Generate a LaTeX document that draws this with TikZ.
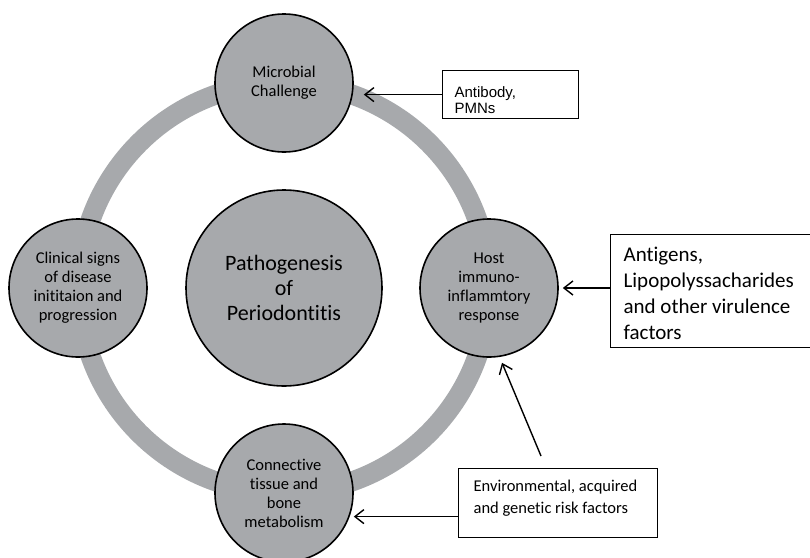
\documentclass[tikz,border=0pt]{standalone}
\usepackage{fontspec}
\setmainfont{Carlito}[Ligatures=NoCommon]
\newfontfamily\arialfont{Liberation Sans}
\usepackage{tikz}
\usetikzlibrary{arrows.meta,positioning,calc}
\definecolor{ringgray}{RGB}{167,169,172}
\tikzset{
  >=Stealth,
  every picture/.append style={line width=0.6pt},
}
\tikzset{
  stage/.style={circle, draw, line width=1.6pt, fill=ringgray, align=center,
    minimum size=138pt, inner sep=0pt, font=\fontsize{16.5}{19}\selectfont},
  hubnode/.style={stage, minimum size=196pt, font=\fontsize{22}{25}\selectfont},
  ring/.style={draw=ringgray, line width=20pt},
  factor/.style={draw, line width=1.2pt, align=flush left, anchor=north west, inner ysep=0pt},
  arrow/.style={-{Straight Barb[length=9pt,width=14pt]}, line width=1.4pt}
}

\begin{document}
\begin{tikzpicture}[x=1pt, y=-1pt]
\useasboundingbox (0,0) rectangle (810,557);
% cycle
\draw[ring] (284,288) circle (205);
\node[hubnode] (hub) at (284,288) {Pathogenesis\\of\\Periodontitis};
\node[stage] (microbe) at (284,83) {Microbial\\Challenge};
\node[stage] (host) at (489,288) {Host\\immuno-\\inflammtory\\response};
\node[stage] (tissue) at (284,493) {Connective\\tissue and\\bone\\metabolism};
\node[stage] (clinical) at (78,288) {Clinical signs\\of disease\\inititaion and\\progression};
% factors
\node[factor, minimum width=136pt, minimum height=48pt, inner xsep=12pt, text width=112pt,
  text height=27pt, text depth=21pt,
  font=\arialfont\fontsize{15}{16}\selectfont] (antibody) at (442,70) {Antibody,\\PMNs};
\node[factor, minimum width=202pt, minimum height=113pt, inner xsep=13pt, text width=176pt,
  text height=27pt, text depth=86pt,
  font=\fontsize{21}{26}\selectfont] (antigen) at (610,234)
  {Antigens,\\Lipopolyssacharides\\and other virulence\\factors};
\node[factor, minimum width=199pt, minimum height=69pt, inner xsep=15pt, text width=169pt,
  text height=23pt, text depth=46pt,
  font=\fontsize{16.5}{22}\selectfont] (risk) at (458,468)
  {Environmental, acquired\\and genetic risk factors};
\coordinate (riskup) at (541,456);
% arrows
\draw[arrow, shorten >=10pt] (antibody.west) -- (antibody.west -| microbe.east);
\draw[arrow, shorten >=4pt] (antigen.west |- host) -- (host.east);
\draw[arrow] ([yshift=-13.5pt]risk.west) -- ([yshift=-13.5pt]risk.west -| tissue.east);
\draw[arrow] (riskup) -- ([xshift=13pt,yshift=-5pt]host.south);
\end{tikzpicture}
\end{document}
